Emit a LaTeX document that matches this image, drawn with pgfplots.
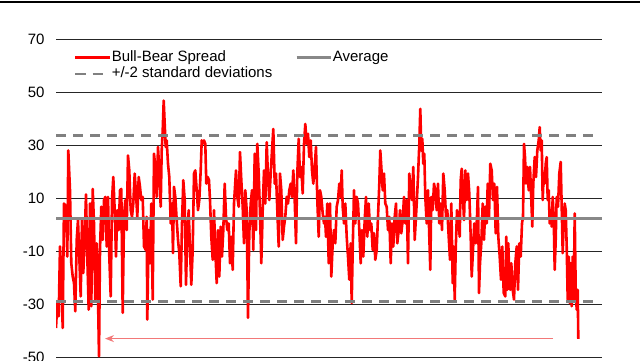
\documentclass[border=0pt]{standalone}
\usepackage{fontspec}
\setmainfont{Liberation Sans}
\usepackage{pgfplots}
\usepackage{pgfplotstable}
\pgfplotsset{compat=1.18}
\usetikzlibrary{arrows.meta}
\definecolor{avggray}{RGB}{136,136,136}
\definecolor{sdgray}{RGB}{128,128,128}
\definecolor{arrowred}{RGB}{242,120,120}
\pgfplotstableread{
x y
56.0 -38.8
57.3 -29.4
58.7 -34.4
60.0 -8.1
61.3 -18.1
62.7 -38.8
64.0 8.1
66.0 6.9
67.3 -11.9
68.3 28.1
70.0 13.1
71.3 -14.4
72.7 -19.4
74.0 -21.9
75.3 -32.5
76.7 -5.6
78.0 1.9
79.3 -11.9
80.7 -26.9
82.0 1.9
83.3 -18.1
84.7 -4.4
86.0 11.5
87.3 -11.9
88.7 -31.9
90.0 8.1
91.3 -30.6
92.7 13.6
94.0 0.6
95.3 -28.1
96.7 -6.9
98.0 -26.9
99.0 -49.5
100.0 -9.4
101.3 6.9
102.7 -5.6
104.0 9.4
105.3 10.6
106.7 -8.1
108.0 10.6
109.3 -11.9
110.7 -26.9
112.0 9.4
113.3 18.1
114.7 5.6
116.0 -11.9
117.3 5.6
118.7 -1.9
120.0 13.1
121.3 13.6
122.7 -33.1
124.0 3.1
125.3 9.4
126.7 -1.9
128.0 26.2
129.3 20.6
130.7 5.6
132.0 3.1
133.3 8.1
134.7 19.4
136.0 11.9
137.3 3.1
138.7 18.1
140.0 14.4
141.3 9.4
142.7 10.6
144.0 -8.1
145.7 -9.4
146.7 3.1
147.3 -35.6
148.7 -1.9
150.0 -14.4
151.3 8.1
152.7 -28.1
154.0 26.9
155.3 21.9
156.7 10.6
158.0 29.4
159.3 20.6
160.7 6.9
161.7 28.1
162.7 35.6
163.7 46.9
164.7 38.1
165.7 29.4
166.7 31.9
168.0 23.1
169.3 18.1
170.7 0.6
172.0 8.1
173.0 -10.6
174.0 14.4
175.3 10.6
176.7 1.9
178.0 -5.6
179.3 -10.6
180.7 -23.1
182.0 0.6
183.3 16.9
184.7 9.4
186.0 -22.5
187.3 -3.1
188.7 5.6
190.0 -9.4
191.3 -22.5
192.7 -9.4
194.0 19.4
195.3 20.6
196.7 13.1
198.0 5.6
199.3 9.4
200.7 20.6
201.7 31.9
202.7 30.6
204.0 31.9
205.3 30.6
206.3 15.6
207.7 18.1
209.0 16.9
210.0 9.4
211.3 -4.4
212.7 -13.1
214.0 5.6
215.3 -9.4
216.7 -21.9
218.0 -1.9
219.3 -19.4
220.7 -0.6
222.0 -11.9
223.3 -1.9
224.7 15.6
226.0 3.1
227.3 -1.9
228.7 0.6
230.0 -14.4
231.3 -4.4
232.7 -16.9
234.0 8.1
236.0 20.6
237.3 10.6
238.7 6.9
240.0 27.5
241.3 16.9
242.7 6.9
244.0 -6.9
245.3 13.1
246.7 5.6
248.0 -35.0
249.3 -3.1
250.7 8.1
252.0 13.1
253.3 -9.4
254.7 26.9
256.0 -1.9
257.3 30.6
258.7 19.4
260.0 4.4
261.3 -14.4
262.7 5.6
264.0 20.6
265.3 8.1
266.7 31.2
268.0 18.1
269.3 9.4
270.7 19.4
272.0 28.1
273.3 36.2
274.7 15.6
276.0 19.4
277.3 5.6
278.7 -8.1
280.0 19.4
281.3 13.1
282.7 -5.6
284.0 -0.6
285.3 3.1
286.7 10.6
288.0 8.1
289.3 13.1
290.7 15.6
292.0 10.6
293.3 20.6
294.7 9.4
296.0 -6.9
297.3 19.4
298.7 32.5
300.0 18.1
301.3 21.9
302.7 11.9
304.0 30.6
305.3 38.1
306.7 30.6
308.0 34.4
309.3 25.6
310.7 31.9
312.0 20.6
313.3 15.6
314.7 21.9
316.0 29.4
317.3 9.4
318.7 -4.4
320.0 13.1
321.3 10.6
322.7 4.4
324.0 0.6
325.0 3.1
326.0 -4.4
327.3 8.1
328.7 -14.4
330.0 8.1
331.3 -19.4
332.7 -6.9
334.0 -1.9
335.3 -6.9
336.7 6.9
338.0 9.4
339.3 15.6
340.7 10.6
341.7 20.6
342.7 6.9
344.0 0.6
345.3 8.1
346.7 -4.4
348.0 -11.9
349.3 -20.6
350.7 -6.9
351.7 -29.4
352.7 -9.4
354.0 13.1
355.3 0.6
356.7 10.6
358.0 8.1
359.3 -1.9
360.7 -14.4
362.0 -1.9
363.3 -11.9
364.7 1.9
366.0 10.6
367.3 -4.4
368.7 8.1
370.0 -1.9
371.3 0.6
372.7 -9.4
374.0 -3.1
375.3 -13.1
376.7 -9.4
378.0 3.1
379.3 15.6
380.3 28.1
381.3 21.9
382.7 13.1
384.0 19.4
385.3 8.1
386.7 6.9
388.0 -1.9
389.3 3.1
390.7 -14.4
392.0 0.6
393.3 -8.1
394.7 3.1
396.0 8.1
397.3 -6.9
398.7 -1.9
400.0 5.6
401.3 -3.1
402.7 1.9
404.0 10.6
405.3 0.6
406.7 9.4
408.0 -14.4
409.3 19.4
410.7 13.1
412.0 9.4
413.3 21.9
414.7 -5.6
416.7 8.1
418.0 18.1
419.3 30.6
420.3 43.8
421.3 28.1
422.3 32.5
423.3 23.1
424.3 26.9
425.3 10.6
426.7 0.6
428.0 13.1
429.3 -4.4
430.3 -16.9
431.3 10.6
432.7 5.6
434.0 15.6
435.3 13.1
436.7 5.6
438.0 15.6
439.3 0.6
440.7 8.1
442.0 -1.9
443.3 19.4
444.7 13.1
446.0 3.1
447.3 5.6
448.7 -4.4
450.0 -13.1
451.3 8.1
452.7 -21.9
453.7 -8.1
454.7 -28.1
455.7 -9.4
457.0 5.6
458.3 3.1
459.7 -4.4
460.7 16.9
461.7 21.2
462.7 13.1
464.0 1.9
465.3 20.6
466.7 9.4
468.0 19.4
469.3 11.9
470.7 -4.4
471.7 -19.4
473.0 -9.4
474.3 0.6
475.7 -6.9
477.0 3.1
478.0 14.4
479.0 -25.6
480.0 -14.4
481.3 -6.9
482.7 8.1
484.0 -5.6
485.3 6.9
486.7 0.6
487.7 15.6
489.0 3.1
490.3 23.1
491.7 20.6
493.0 9.4
494.3 15.6
495.7 -3.1
497.0 14.4
498.3 -4.4
499.7 -11.9
501.0 -20.6
502.3 -8.1
503.7 -25.6
505.3 -26.9
506.3 -4.4
507.3 -24.4
508.3 -6.9
509.3 -19.4
510.3 -24.4
511.3 -14.4
512.7 -24.4
514.0 -28.1
515.3 -14.4
516.7 -8.1
518.0 -24.4
519.3 -6.9
520.7 -11.9
522.0 0.6
523.0 3.1
524.0 30.6
525.0 25.6
526.0 15.6
527.3 21.9
528.7 13.1
530.0 21.9
531.3 9.4
532.3 -0.6
533.3 15.6
534.7 25.6
536.0 18.1
537.3 28.1
538.7 31.9
539.7 36.9
540.7 28.1
541.7 31.9
542.7 9.4
543.7 19.4
544.7 15.6
545.7 23.1
546.7 25.6
547.7 9.4
548.7 13.1
549.7 0.6
550.7 5.6
551.7 -0.6
552.7 10.6
553.7 3.1
554.7 -16.9
555.7 -5.6
556.7 10.6
558.0 6.9
559.3 19.4
560.7 23.8
561.7 6.9
562.7 -10.6
563.7 0.6
564.7 8.1
565.7 5.6
566.7 -8.1
567.7 -28.1
568.7 -11.9
569.7 -29.4
570.7 -14.4
571.7 -30.6
572.7 -11.9
573.7 -28.1
574.7 4.4
575.7 -24.4
576.7 -31.9
577.7 -24.4
578.3 -42.9
}\bbdata
\begin{document}
\begin{tikzpicture}[x=1pt,y=1pt]
\useasboundingbox (0,0) rectangle (640,360);
\clip (0,0) rectangle (640,360);
\draw[black, line width=1.6pt] (0,358) -- (640,358);
\begin{axis}[
  at={(56pt,2.3pt)}, anchor=south west,
  scale only axis, width=546pt, height=318.4pt,
  xmin=56, xmax=602, ymin=-50, ymax=70,
  xtick=\empty, ytick={-50,-30,...,70},
  ymajorgrids, major grid style={line width=1.2pt, color=black!85},
  axis line style={draw=none}, major tick length=0pt,
  yticklabel style={xshift=-8pt, font=\fontsize{15}{17}\selectfont},
  /pgf/number format/assume math mode=true,
  legend columns=2,
  legend style={at={(axis description cs:0,1)}, anchor=north west,
    xshift=18pt, yshift=-10pt, draw=none, fill=none, inner sep=0pt,
    font=\fontsize{15}{17}\selectfont, row sep=0.5pt,
    nodes={inner sep=1pt, text height=11pt, text depth=3pt, anchor=west},
    /tikz/every even column/.append style={column sep=22pt}},
  legend image code/.code={\draw[#1] (0pt,0pt) -- (34pt,0pt);},
]
\addplot[red, line width=2.6pt, line join=round] table[x=x,y=y] {\bbdata};
\addlegendentry{Bull-Bear Spread}
\addplot[avggray, line width=2.6pt] coordinates {(56,2.4) (602,2.4)};
\addlegendentry{Average}
\addplot[sdgray, line width=2.4pt, dash pattern=on 10pt off 7pt] coordinates {(56,33.8) (594,33.8)};
\addlegendentry{+/-2 standard deviations}
\addplot[forget plot, sdgray, line width=2.4pt, dash pattern=on 10pt off 7pt] coordinates {(56,-28.8) (594,-28.8)};
\addplot[forget plot, arrowred, line width=1.2pt, -{Stealth[length=9pt,width=7pt]}] coordinates {(553,-42.8) (105,-42.8)};
\end{axis}
\end{tikzpicture}
\end{document}
